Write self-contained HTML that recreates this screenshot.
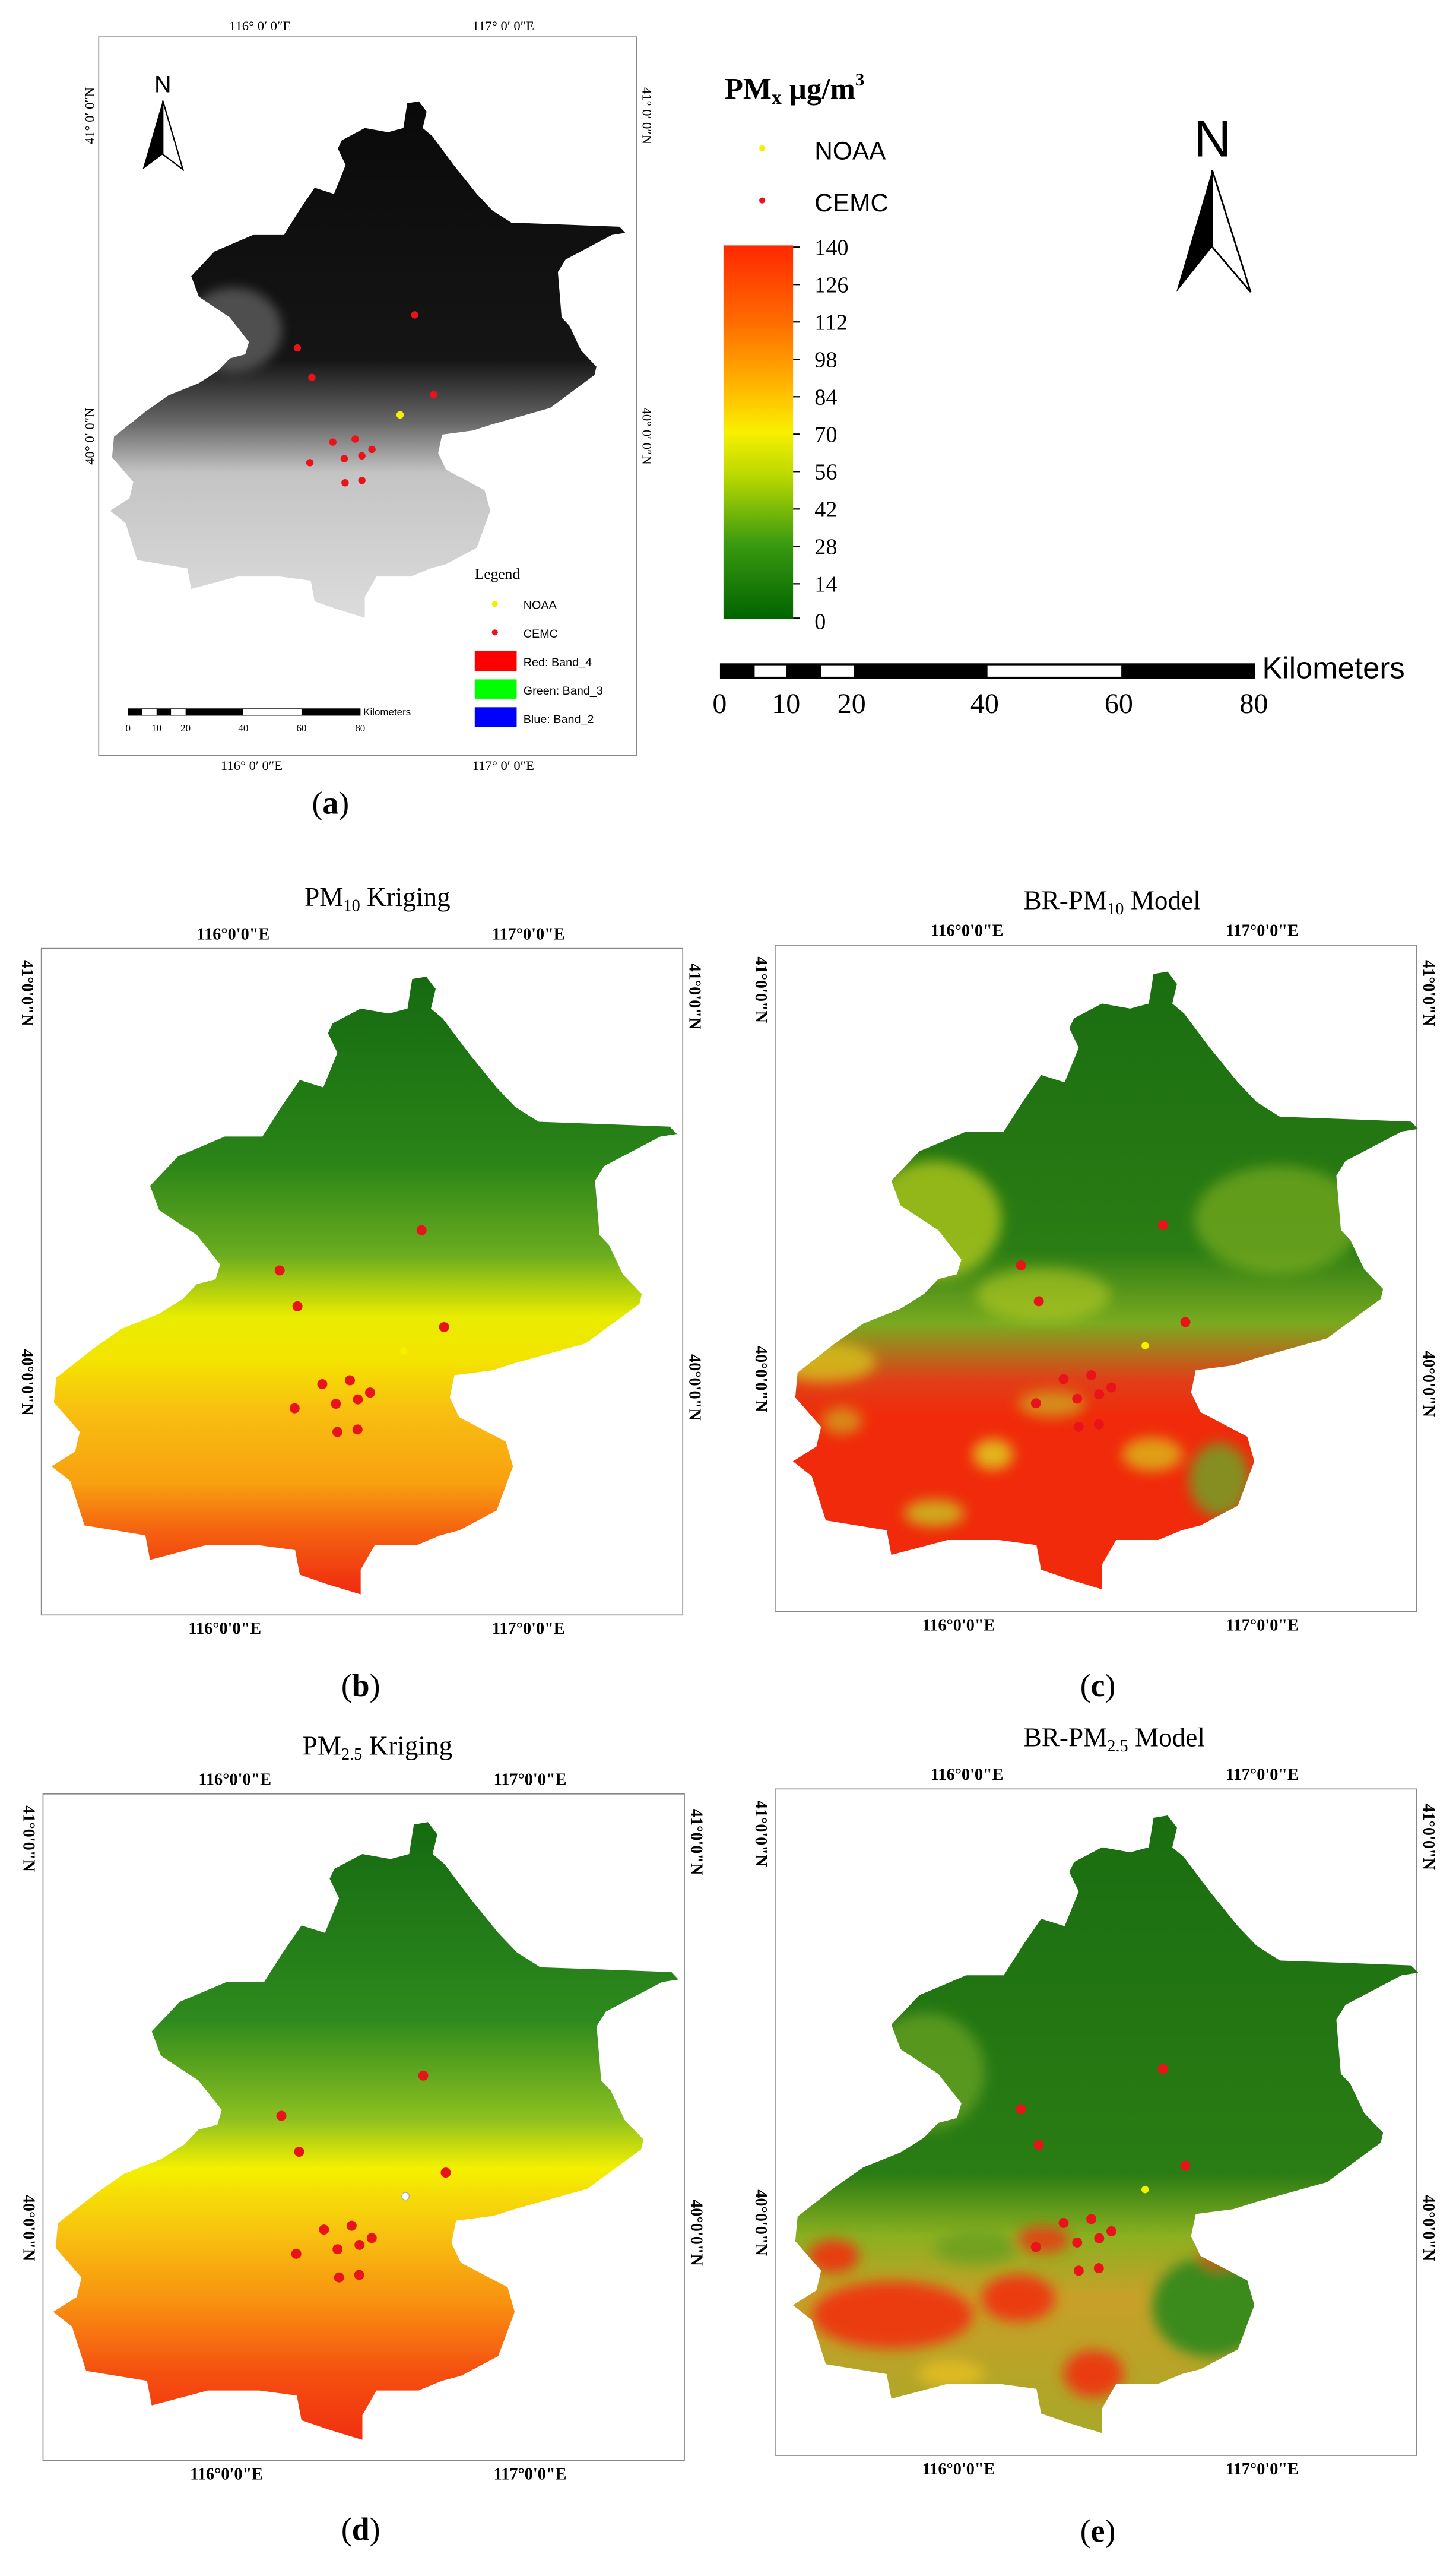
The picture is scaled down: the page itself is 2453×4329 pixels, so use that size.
<!DOCTYPE html>
<html><head><meta charset="utf-8"><style>
html,body{margin:0;padding:0;background:#fff}
svg{display:block}
text{font-family:"Liberation Serif",serif}
.s{font-family:"Liberation Sans",sans-serif}
.tk{font-size:10px;font-weight:bold}
.ti{font-size:16px}
.lab{font-size:19px}
</style></head><body>
<svg width="2453" height="4329" viewBox="0 0 868 1532" xmlns="http://www.w3.org/2000/svg">
<defs>
<polygon id="bj" points="245.7,583.6 254.1,582.2 259.7,589.5 256.9,601.2 263.9,607.1 279.3,627.6 296,648.2 307.2,659.9 321.1,668.7 363,670.2 399.3,671.6 403.5,676 393.7,677.5 360.2,695.1 354.7,703.9 357.4,736.2 363,742.1 371.4,759.7 382.6,771.4 381.2,777.3 349.1,800.8 307.2,812.5 293.2,816.9 270.9,819.8 268.1,833 273.7,844.8 301.6,859.4 305.8,874.1 296,900.5 273.7,912.3 262.5,915.2 248.5,921 223.4,921 215,935.7 215,950.4 195.5,944.5 178.7,938.7 175.9,924 153.6,921 122.9,921 89.4,929.9 86.6,915.2 50.3,909.3 41.9,882.9 30.7,874.1 44.7,865.3 47.5,853.6 32.1,836 33.5,821.3 55.9,803.7 72.6,792 94.9,783.1 108.9,774.3 117.3,765.5 128.5,762.6 131.2,753.8 117.3,736.2 94.9,721.5 89.4,706.9 106.1,689.3 120.1,683.4 134,677.5 156.4,677.5 167.6,659.9 178.7,643.8 192.7,648.2 201.1,627.6 195.5,615.9 198.3,610 215,601.2 231.8,604.2 242.9,601.2"/>
<clipPath id="cbj"><use href="#bj"/></clipPath>
<filter id="bl" x="-20%" y="-20%" width="140%" height="140%"><feGaussianBlur stdDeviation="4"/></filter>
<linearGradient id="gk" x1="0" y1="0" x2="0" y2="1">
<stop offset="0" stop-color="#156a10"/><stop offset="0.3" stop-color="#2a8418"/><stop offset="0.45" stop-color="#6aac20"/><stop offset="0.55" stop-color="#e8ec00"/><stop offset="0.62" stop-color="#f4e400"/><stop offset="0.7" stop-color="#f8c010"/><stop offset="0.82" stop-color="#f8a010"/><stop offset="0.9" stop-color="#f46010"/><stop offset="1" stop-color="#f02a10"/></linearGradient>
<linearGradient id="gk2" x1="0" y1="0" x2="0" y2="1">
<stop offset="0" stop-color="#156a10"/><stop offset="0.32" stop-color="#2e8a1e"/><stop offset="0.48" stop-color="#8cc020"/><stop offset="0.56" stop-color="#f4f000"/><stop offset="0.67" stop-color="#f8c010"/><stop offset="0.78" stop-color="#f89010"/><stop offset="0.89" stop-color="#f55010"/><stop offset="1" stop-color="#f03010"/></linearGradient>
<linearGradient id="gc" x1="0" y1="0" x2="0" y2="1">
<stop offset="0" stop-color="#1a6e10"/><stop offset="0.45" stop-color="#2a7c14"/><stop offset="0.57" stop-color="#7aaa20"/><stop offset="0.66" stop-color="#e04018"/><stop offset="0.72" stop-color="#f02a0a"/><stop offset="1" stop-color="#f02a0a"/></linearGradient>
<linearGradient id="ge" x1="0" y1="0" x2="0" y2="1">
<stop offset="0" stop-color="#1a6e10"/><stop offset="0.58" stop-color="#2a7c14"/><stop offset="0.68" stop-color="#8ab020"/><stop offset="0.78" stop-color="#c8a028"/><stop offset="1" stop-color="#a8a828"/></linearGradient>
<linearGradient id="ga" x1="0" y1="0" x2="0" y2="1">
<stop offset="0" stop-color="#0a0a0a"/><stop offset="0.5" stop-color="#151515"/><stop offset="0.62" stop-color="#666"/><stop offset="0.72" stop-color="#c4c4c4"/><stop offset="1" stop-color="#dcdcdc"/></linearGradient>
<linearGradient id="cb" x1="0" y1="0" x2="0" y2="1">
<stop offset="0" stop-color="#ff2800"/><stop offset="0.2" stop-color="#ff6a00"/><stop offset="0.4" stop-color="#ffc000"/><stop offset="0.5" stop-color="#f8f000"/><stop offset="0.62" stop-color="#b8d800"/><stop offset="0.8" stop-color="#3a9a10"/><stop offset="1" stop-color="#006400"/></linearGradient>
<g id="dots" fill="#e8141a">
<circle cx="251.3" cy="733.3" r="3"/><circle cx="166.7" cy="757.3" r="3"/><circle cx="177.3" cy="778.7" r="3"/><circle cx="264.7" cy="791.1" r="3"/>
<circle cx="192.1" cy="825.1" r="3"/><circle cx="208.6" cy="822.8" r="3"/><circle cx="220.6" cy="830.1" r="3"/><circle cx="175.6" cy="839.5" r="3"/><circle cx="200.2" cy="836.8" r="3"/><circle cx="213.3" cy="834.2" r="3"/><circle cx="201.1" cy="853.6" r="3"/><circle cx="213.1" cy="852.1" r="3"/>
</g>
<g id="frame">
<rect x="24.6" y="565.4" width="382.4" height="397.3" fill="none" stroke="#888" stroke-width="0.6"/>
<text x="139" y="560" class="tk" text-anchor="middle">116°0'0"E</text><text x="315" y="560" class="tk" text-anchor="middle">117°0'0"E</text>
<text x="134" y="974" class="tk" text-anchor="middle">116°0'0"E</text><text x="315" y="974" class="tk" text-anchor="middle">117°0'0"E</text>
<text transform="translate(13,592) rotate(90)" class="tk" text-anchor="middle">41°0'0"N</text>
<text transform="translate(13,824) rotate(90)" class="tk" text-anchor="middle">40°0'0"N</text>
<text transform="translate(411,594) rotate(90)" class="tk" text-anchor="middle">41°0'0"N</text>
<text transform="translate(411,827) rotate(90)" class="tk" text-anchor="middle">40°0'0"N</text>
</g>
</defs>

<!-- Panel a -->
<rect x="58.8" y="22" width="320.8" height="428.4" fill="none" stroke="#888" stroke-width="0.6"/>
<text x="155" y="18" font-size="8" text-anchor="middle">116° 0′ 0″E</text>
<text x="300" y="18" font-size="8" text-anchor="middle">117° 0′ 0″E</text>
<text x="150" y="459" font-size="8" text-anchor="middle">116° 0′ 0″E</text>
<text x="300" y="459" font-size="8" text-anchor="middle">117° 0′ 0″E</text>
<text transform="translate(56,69) rotate(-90)" font-size="8" text-anchor="middle">41° 0′ 0″N</text>
<text transform="translate(56,260) rotate(-90)" font-size="8" text-anchor="middle">40° 0′ 0″N</text>
<text transform="translate(383,69) rotate(90)" font-size="8" text-anchor="middle">41° 0′ 0″N</text>
<text transform="translate(383,260) rotate(90)" font-size="8" text-anchor="middle">40° 0′ 0″N</text>
<g transform="translate(40.3,-426.3) scale(0.824,0.836)"><use href="#bj" fill="url(#ga)"/>
<g clip-path="url(#cbj)"><ellipse cx="120" cy="745" rx="35" ry="30" fill="#777" opacity="0.6" filter="url(#bl)"/></g></g>
<g fill="#e8141a"><circle cx="247.2" cy="187.7" r="2.2"/><circle cx="177.2" cy="207.4" r="2.2"/><circle cx="185.9" cy="225" r="2.2"/><circle cx="258.5" cy="235.3" r="2.2"/><circle cx="198.4" cy="263.5" r="2.2"/><circle cx="211.7" cy="261.7" r="2.2"/><circle cx="221.7" cy="267.9" r="2.2"/><circle cx="184.7" cy="275.8" r="2.2"/><circle cx="205.2" cy="273.4" r="2.2"/><circle cx="215.7" cy="271.7" r="2.2"/><circle cx="205.7" cy="287.8" r="2.2"/><circle cx="215.7" cy="286.4" r="2.2"/></g>
<circle cx="238.5" cy="247.3" r="2.2" fill="#f4f000"/>
<text x="97" y="55" class="s" font-size="14" text-anchor="middle">N</text>
<polygon points="97,60 85,101 97,92" fill="#000"/><polygon points="97,60 109,101 97,92" fill="#fff" stroke="#000" stroke-width="0.8"/>
<text x="283" y="345" font-size="9">Legend</text>
<circle cx="295" cy="360" r="1.8" fill="#f4f000"/><text x="312" y="363" class="s" font-size="7">NOAA</text>
<circle cx="295" cy="377" r="1.8" fill="#e8141a"/><text x="312" y="380" class="s" font-size="7">CEMC</text>
<rect x="283" y="388" width="25" height="12" fill="#f00"/><text x="312" y="397" class="s" font-size="7">Red:    Band_4</text>
<rect x="283" y="405" width="25" height="11.5" fill="#0f0"/><text x="312" y="414" class="s" font-size="7">Green: Band_3</text>
<rect x="283" y="421.6" width="25" height="11.8" fill="#00f"/><text x="312" y="431" class="s" font-size="7">Blue:   Band_2</text>
<rect x="76.3" y="422.5" width="138.4" height="3.9" fill="#fff" stroke="#000" stroke-width="0.4"/>
<rect x="76.3" y="422.5" width="8.6" height="3.9" fill="#000"/><rect x="93.3" y="422.5" width="8.6" height="3.9" fill="#000"/><rect x="110.6" y="422.5" width="34.4" height="3.9" fill="#000"/><rect x="179.7" y="422.5" width="35" height="3.9" fill="#000"/>
<text x="216.6" y="426.5" class="s" font-size="6">Kilometers</text>
<g class="s" font-size="6" text-anchor="middle"><text x="76.3" y="436">0</text><text x="93.3" y="436">10</text><text x="110.6" y="436">20</text><text x="145" y="436">40</text><text x="179.7" y="436">60</text><text x="214.7" y="436">80</text></g>
<text x="197" y="485" class="lab" text-anchor="middle">(<tspan font-weight="bold">a</tspan>)</text>

<!-- legend right -->
<text x="432" y="59" font-size="18" font-weight="bold">PM<tspan font-size="12" dy="3">x</tspan><tspan dy="-3"> µg/m</tspan><tspan font-size="11" dy="-8">3</tspan></text>
<circle cx="454.4" cy="88.4" r="1.8" fill="#f4f000"/><text x="485.6" y="95" class="s" font-size="15">NOAA</text>
<circle cx="454.4" cy="119.5" r="1.8" fill="#e8141a"/><text x="485.6" y="126" class="s" font-size="15">CEMC</text>
<rect x="431.3" y="146.3" width="41.5" height="222.6" fill="url(#cb)"/>
<g stroke="#000" stroke-width="0.8"><line x1="472.8" y1="147.3" x2="476.7" y2="147.3"/><line x1="472.8" y1="169.6" x2="476.7" y2="169.6"/><line x1="472.8" y1="191.9" x2="476.7" y2="191.9"/><line x1="472.8" y1="214.2" x2="476.7" y2="214.2"/><line x1="472.8" y1="236.5" x2="476.7" y2="236.5"/><line x1="472.8" y1="258.8" x2="476.7" y2="258.8"/><line x1="472.8" y1="281.1" x2="476.7" y2="281.1"/><line x1="472.8" y1="303.4" x2="476.7" y2="303.4"/><line x1="472.8" y1="325.7" x2="476.7" y2="325.7"/><line x1="472.8" y1="348" x2="476.7" y2="348"/><line x1="472.8" y1="368.5" x2="476.7" y2="368.5"/></g>
<g font-size="13.5">
<text x="485.6" y="152">140</text><text x="485.6" y="174.3">126</text><text x="485.6" y="196.6">112</text><text x="485.6" y="218.9">98</text><text x="485.6" y="241.2">84</text><text x="485.6" y="263.5">70</text><text x="485.6" y="285.8">56</text><text x="485.6" y="308.1">42</text><text x="485.6" y="330.4">28</text><text x="485.6" y="352.7">14</text><text x="485.6" y="375">0</text></g>
<text x="722.8" y="93.3" class="s" font-size="31" text-anchor="middle">N</text>
<polygon points="722.7,101.4 701.3,174.1 722.7,147.2" fill="#000"/><polygon points="722.7,101.4 745.6,174.1 722.7,147.2" fill="#fff" stroke="#000" stroke-width="1"/>
<rect x="429.2" y="395.4" width="318.9" height="9.2" fill="#000"/>
<rect x="449.9" y="396.6" width="18.7" height="6.8" fill="#fff"/><rect x="489.4" y="396.6" width="19.8" height="6.8" fill="#fff"/><rect x="588.7" y="396.6" width="79.8" height="6.8" fill="#fff"/>
<text x="752.5" y="404.3" class="s" font-size="18">Kilometers</text>
<g class="s" font-size="17" text-anchor="middle"><text x="429" y="425">0</text><text x="468.6" y="425">10</text><text x="507.7" y="425">20</text><text x="587" y="425">40</text><text x="667" y="425">60</text><text x="747.5" y="425">80</text></g>

<!-- b -->
<use href="#frame"/>
<use href="#bj" fill="url(#gk)"/>
<use href="#dots"/>
<circle cx="240.7" cy="805.2" r="2.2" fill="#f4f000"/>
<text x="225" y="540" class="ti" text-anchor="middle">PM<tspan font-size="10" dy="3">10</tspan><tspan dy="-3"> Kriging</tspan></text>
<text x="215" y="1011" class="lab" text-anchor="middle">(<tspan font-weight="bold">b</tspan>)</text>

<!-- c -->
<g transform="translate(437.5,-2)"><use href="#frame"/></g>
<g transform="translate(442,-3)">
<use href="#bj" fill="url(#gc)"/>
<g clip-path="url(#cbj)"><g filter="url(#bl)">
<ellipse cx="115" cy="730" rx="40" ry="35" fill="#c0d020" opacity="0.7"/>
<ellipse cx="180" cy="775" rx="40" ry="16" fill="#c0d020" opacity="0.55"/>
<ellipse cx="320" cy="730" rx="50" ry="32" fill="#9cc020" opacity="0.5"/>
<ellipse cx="50" cy="815" rx="30" ry="12" fill="#d8d020" opacity="0.7"/>
<ellipse cx="150" cy="870" rx="12" ry="9" fill="#e0d820" opacity="0.8"/>
<ellipse cx="115" cy="905" rx="18" ry="8" fill="#c8c820" opacity="0.8"/>
<ellipse cx="245" cy="870" rx="18" ry="10" fill="#d8d020" opacity="0.7"/>
<ellipse cx="285" cy="885" rx="18" ry="22" fill="#6aa828" opacity="0.8"/>
<ellipse cx="60" cy="850" rx="12" ry="8" fill="#c8c820" opacity="0.6"/>
<ellipse cx="185" cy="840" rx="20" ry="8" fill="#c8c820" opacity="0.6"/>
</g></g>
<use href="#dots"/>
<circle cx="240.7" cy="805.2" r="2.2" fill="#f4f000"/>
</g>
<text x="663" y="542" class="ti" text-anchor="middle">BR-PM<tspan font-size="10" dy="3">10</tspan><tspan dy="-3"> Model</tspan></text>
<text x="654.5" y="1011" class="lab" text-anchor="middle">(<tspan font-weight="bold">c</tspan>)</text>

<!-- d -->
<g transform="translate(1,504)"><use href="#frame"/><use href="#bj" fill="url(#gk2)"/><use href="#dots"/><circle cx="240.7" cy="805.2" r="2.2" fill="#fff" stroke="#aaa" stroke-width="0.5"/></g>
<text x="225" y="1046" class="ti" text-anchor="middle">PM<tspan font-size="10" dy="3">2.5</tspan><tspan dy="-3"> Kriging</tspan></text>
<text x="215" y="1514" class="lab" text-anchor="middle">(<tspan font-weight="bold">d</tspan>)</text>

<!-- e -->
<g transform="translate(437.5,501)"><use href="#frame"/></g>
<g transform="translate(442,500)">
<use href="#bj" fill="url(#ge)"/>
<g clip-path="url(#cbj)"><g filter="url(#bl)">
<ellipse cx="110" cy="735" rx="35" ry="35" fill="#8cb828" opacity="0.5"/>
<ellipse cx="90" cy="880" rx="48" ry="20" fill="#f03010" opacity="0.9"/>
<ellipse cx="55" cy="845" rx="15" ry="10" fill="#f03010" opacity="0.9"/>
<ellipse cx="165" cy="870" rx="22" ry="14" fill="#f03010" opacity="0.9"/>
<ellipse cx="210" cy="915" rx="18" ry="14" fill="#f03010" opacity="0.9"/>
<ellipse cx="180" cy="835" rx="16" ry="8" fill="#f03010" opacity="0.8"/>
<ellipse cx="125" cy="915" rx="20" ry="8" fill="#e8c020" opacity="0.8"/>
<ellipse cx="280" cy="875" rx="35" ry="30" fill="#3a8a1a"/>
<ellipse cx="285" cy="845" rx="12" ry="8" fill="#f04010" opacity="0.7"/>
<ellipse cx="140" cy="840" rx="25" ry="10" fill="#5a9a20" opacity="0.6"/>
</g></g>
<use href="#dots"/>
<circle cx="240.7" cy="805.2" r="2.2" fill="#f4f000"/>
</g>
<text x="664.3" y="1041" class="ti" text-anchor="middle">BR-PM<tspan font-size="10" dy="3">2.5</tspan><tspan dy="-3"> Model</tspan></text>
<text x="654.5" y="1515" class="lab" text-anchor="middle">(<tspan font-weight="bold">e</tspan>)</text>
</svg>
</body></html>
